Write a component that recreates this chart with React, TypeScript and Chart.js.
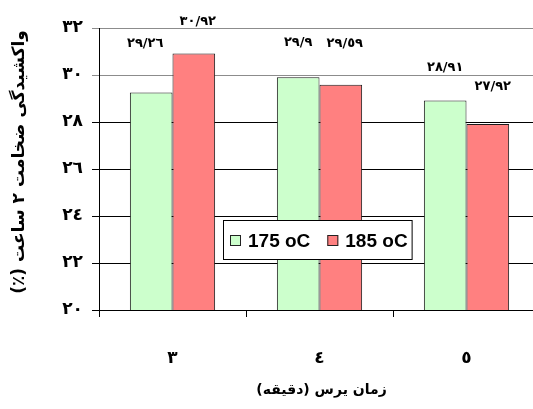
import { useEffect, useRef } from "react";
import { Chart, registerables } from "chart.js";

Chart.register(...registerables);

// Press time (minutes) and thickness swelling after 2 hours (%)
const pressTimes = ["٣", "٤", "٥"];
const seriesNames = ["175 oC", "185 oC"];
const swell175 = [29.26, 29.9, 28.91];
const swell185 = [30.92, 29.59, 27.92];
const yTickValues = [20, 22, 24, 26, 28, 30, 32];

const yTitle = "واکشیدگی ضخامت ٢ ساعت (٪)";
const xTitle = "زمان یرس (دقیقه)";

const ARABIC_DIGITS = "٠١٢٣٤٥٦٧٨٩";
const toArabic = (v: number) =>
  String(v)
    .replace(/[0-9]/g, (d) => ARABIC_DIGITS[Number(d)])
    .replace(".", "/");

const ARABIC_FONT = '"DejaVu Sans", sans-serif';

// Value labels above each bar, with small per-bar nudges to avoid overlaps
const valueLabels = {
  id: "valueLabels",
  afterDatasetsDraw(chart: any, _args: any, opts: any) {
    const { ctx } = chart;
    ctx.save();
    ctx.font = `bold 13px ${ARABIC_FONT}`;
    ctx.fillStyle = "#000";
    ctx.textAlign = "center";
    ctx.textBaseline = "middle";
    chart.data.datasets.forEach((ds: any, di: number) => {
      const meta = chart.getDatasetMeta(di);
      meta.data.forEach((bar: any, i: number) => {
        const lift = opts.lift[di][i];
        const dx = opts.dx[di][i];
        ctx.fillText(toArabic(ds.data[i]), bar.x + dx, bar.y - lift);
      });
    });
    ctx.restore();
  },
};

// Boxed legend sitting inside the plot area
const legendBox = {
  id: "legendBox",
  afterDatasetsDraw(chart: any) {
    const { ctx, chartArea } = chart;
    const left = chartArea.left + 124;
    const top = chartArea.top + 192;
    const h = 39;
    ctx.save();
    ctx.direction = "ltr";
    ctx.font = "bold 19px \"Liberation Sans\", Arial, sans-serif";
    const sq = 11;
    let w = 7;
    const widths = chart.data.datasets.map((ds: any) => ctx.measureText(ds.label).width);
    widths.forEach((tw: number, i: number) => {
      w += sq + 7 + tw + (i < widths.length - 1 ? 17 : 4);
    });
    ctx.fillStyle = "#fff";
    ctx.fillRect(left, top, w, h);
    ctx.strokeStyle = "#000";
    ctx.lineWidth = 1;
    ctx.strokeRect(left + 0.5, top + 0.5, w, h);
    let x = left + 7;
    const cy = top + h / 2 + 1;
    ctx.textAlign = "left";
    ctx.textBaseline = "middle";
    chart.data.datasets.forEach((ds: any, i: number) => {
      ctx.fillStyle = ds.backgroundColor;
      ctx.fillRect(x, cy - sq / 2, sq, sq);
      ctx.strokeStyle = "#222";
      ctx.strokeRect(x + 0.5, cy - sq / 2 + 0.5, sq - 1, sq - 1);
      x += sq + 7;
      ctx.fillStyle = "#000";
      ctx.fillText(ds.label, x, cy + 1);
      x += widths[i] + 17;
    });
    ctx.restore();
  },
};

// Right-to-left axis titles
const axisTitles = {
  id: "axisTitles",
  afterDraw(chart: any) {
    const { ctx, chartArea } = chart;
    ctx.save();
    ctx.direction = "rtl";
    ctx.fillStyle = "#000";
    ctx.textAlign = "center";
    ctx.textBaseline = "middle";
    ctx.font = `bold 14px ${ARABIC_FONT}`;
    ctx.fillText(xTitle, (chartArea.left + chartArea.right) / 2 + 2, 390);
    ctx.font = `bold 17px ${ARABIC_FONT}`;
    ctx.translate(20, (chartArea.top + chartArea.bottom) / 2 - 7);
    ctx.rotate(-Math.PI / 2);
    ctx.fillText(yTitle, 0, 0);
    ctx.restore();
  },
};

export default function App() {
  const ref = useRef<HTMLCanvasElement>(null);

  useEffect(() => {
    const canvas = ref.current!;
    const chart = new Chart(canvas, {
      type: "bar",
      data: {
        labels: pressTimes,
        datasets: [
          {
            label: seriesNames[0],
            data: swell175,
            backgroundColor: "#CCFFCC",
            borderColor: "#1a1a1a",
            borderWidth: 1,
          },
          {
            label: seriesNames[1],
            data: swell185,
            backgroundColor: "#FF8080",
            borderColor: "#1a1a1a",
            borderWidth: 1,
          },
        ],
      },
      options: {
        responsive: false,
        animation: false,
        devicePixelRatio: 1,
        layout: { padding: { top: 28, left: 0, right: 0, bottom: 0 } },
        datasets: { bar: { barPercentage: 1, categoryPercentage: 0.58 } },
        plugins: {
          legend: { display: false },
          tooltip: { enabled: false },
          valueLabels: {
            lift: [
              [49, 35, 33],
              [32, 41, 37],
            ],
            dx: [
              [-6, 0, 0],
              [4, 4, 5],
            ],
          },
        } as any,
        scales: {
          x: {
            offset: true,
            grid: {
              offset: true,
              drawOnChartArea: false,
              drawTicks: true,
              tickLength: 7,
              color: "#000",
            },
            border: { display: true, color: "#000", width: 1 },
            ticks: {
              color: "#000",
              padding: 31,
              font: { family: ARABIC_FONT, size: 17, weight: "bold" },
            },
            afterFit(scale: any) {
              scale.height = 99;
            },
          },
          y: {
            min: 20,
            max: 32,
            afterBuildTicks(scale: any) {
              scale.ticks = yTickValues.map((value) => ({ value }));
            },
            grid: {
              tickLength: 7,
              color: (c: any) => (c.tick && c.tick.value >= 30 ? "#8c8c8c" : "#000"),
            },
            border: { display: true, color: "#000", width: 1 },
            ticks: {
              color: "#000",
              padding: 9,
              font: { family: ARABIC_FONT, size: 17, weight: "bold" },
              callback: (v: any) => toArabic(Number(v)),
            },
            afterFit(scale: any) {
              scale.width = 99;
            },
          },
        },
      },
      plugins: [valueLabels, legendBox, axisTitles],
    });
    return () => chart.destroy();
  }, []);

  return (
    <div
      style={{
        position: "fixed",
        left: 0,
        top: 0,
        width: 533,
        height: 409,
        overflow: "hidden",
        background: "#fff",
      }}
    >
      <canvas ref={ref} width={540} height={409} style={{ display: "block" }} />
    </div>
  );
}
